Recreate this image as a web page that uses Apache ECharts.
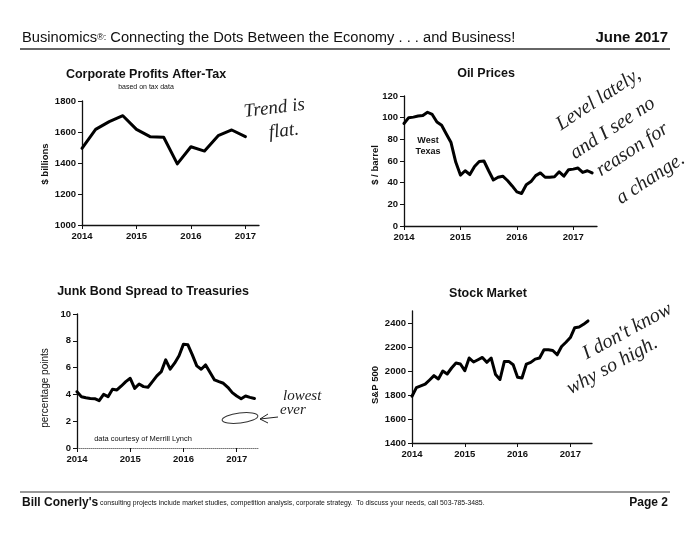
<!DOCTYPE html>
<html><head><meta charset="utf-8">
<script src="https://cdn.jsdelivr.net/npm/echarts@6/dist/echarts.min.js"></script>
<style>html,body{margin:0;padding:0;background:#fff}#c{width:700px;height:541px}</style>
</head><body><div id="c"></div>
<script>
// ---- data ----
const years = [2014, 2015, 2016, 2017];
const profitStart = 2014;          // quarterly, 2014Q1 .. 2017Q1
const profits = [1495,1617,1667,1705,1617,1570,1566,1394,1505,1477,1576,1613,1570];
const monthlyStart = 2014;         // monthly, Jan 2014 .. May 2017
const oilPrices = [94.6,100,100.5,101.5,102,105,103,96,93,85,77,59,
  47,51,47.5,55,59.5,60,51,42.5,45,46,42,37,
  31.5,30,38,41,46.5,49,45,45,45.5,50,46,52,
  52.5,53.5,49.5,51,49];
const junkSpread = [4.2,3.83,3.75,3.7,3.68,3.53,4.0,3.83,4.38,4.33,4.63,4.95,
  5.2,4.45,4.78,4.58,4.53,4.95,5.38,5.7,6.58,5.88,6.33,6.88,
  7.75,7.7,6.95,6.13,5.88,6.2,5.63,5.08,4.95,4.83,4.53,4.13,
  3.88,3.68,3.88,3.78,3.7];
const sp500 = [1790,1862,1876,1890,1925,1961,1934,2000,1975,2025,2066,2058,
  2003,2108,2075,2094,2113,2072,2108,1970,1929,2080,2080,2052,
  1947,1942,2058,2072,2099,2108,2177,2177,2171,2135,2204,2240,
  2279,2361,2367,2389,2417];
const profitTicks = [1000,1200,1400,1600,1800];
const oilTicks = [0,20,40,60,80,100,120];
const junkTicks = [0,2,4,6,8,10];
const spTicks = [1400,1600,1800,2000,2200,2400];

const quarterly = (arr, start) => arr.map((v, i) => [start + i / 4, v]);
const monthly = (arr, start) => arr.map((v, i) => [start + i / 12, v]);

const F = 'Liberation Sans, Arial, sans-serif';
const HAND = 'Liberation Serif, serif';
const chart = echarts.init(document.getElementById('c'), null, {renderer: 'canvas'});
const plain = v => String(v);

function xAx(gi, max, lineStyle) {
  return {
    type: 'value', gridIndex: gi, min: 2014, max: max, interval: 1,
    axisLine: {show: true, lineStyle: lineStyle || {color: '#111', width: 1.3}},
    axisTick: {show: true, length: 4, customValues: years, lineStyle: {color: '#111'}},
    axisLabel: {customValues: years, formatter: plain, margin: 6, color: '#111', fontFamily: F, fontWeight: 'bold', fontSize: 9.5},
    splitLine: {show: false}
  };
}
function yAx(gi, min, max, interval, ticks) {
  return {
    type: 'value', gridIndex: gi, min: min, max: max, interval: interval,
    axisLine: {show: true, lineStyle: {color: '#111', width: 1.3}},
    axisTick: {show: true, length: 4, customValues: ticks, lineStyle: {color: '#111'}},
    axisLabel: {customValues: ticks, formatter: plain, margin: 6, color: '#111', fontFamily: F, fontWeight: 'bold', fontSize: 9.5},
    splitLine: {show: false}
  };
}
const lineSeries = (i, data) => ({
  type: 'line', xAxisIndex: i, yAxisIndex: i, data: data, symbol: 'none', silent: true,
  lineStyle: {color: '#000', width: 3, join: 'round', cap: 'round'}, animation: false
});
function txt(x, y, text, size, weight, opts) {
  opts = opts || {};
  return {
    type: 'text', x: x, y: y, rotation: opts.rot || 0, silent: true,
    style: {text: text, x: 0, y: 0, fill: opts.color || '#111',
      font: (opts.italic ? 'italic ' : '') + (weight || 'normal') + ' ' + size + 'px ' + (opts.family || F),
      textAlign: opts.align || 'center', textVerticalAlign: 'middle'}
  };
}
const hand = (x, y, text, rot, size) => txt(x, y, text, size || 17, 'normal', {family: HAND, italic: true, rot: rot, align: 'left', color: '#222'});

chart.setOption({
  backgroundColor: '#fff',
  animation: false,
  grid: [
    {left: 82, top: 101, width: 177, height: 124},
    {left: 404, top: 96, width: 193, height: 130},
    {left: 77, top: 314, width: 181, height: 134},
    {left: 412, top: 311, width: 180, height: 132}
  ],
  xAxis: [
    xAx(0, 2017.25), xAx(1, 2017.42),
    xAx(2, 2017.4, {color: '#777', width: 1, type: 'dotted'}), xAx(3, 2017.41)
  ],
  yAxis: [
    yAx(0, 1000, 1800, 200, profitTicks),
    yAx(1, 0, 120, 20, oilTicks),
    yAx(2, 0, 10, 2, junkTicks),
    yAx(3, 1400, 2500, 100, spTicks)
  ],
  series: [
    lineSeries(0, quarterly(profits, profitStart)),
    lineSeries(1, monthly(oilPrices, monthlyStart)),
    lineSeries(2, monthly(junkSpread, monthlyStart)),
    lineSeries(3, monthly(sp500, monthlyStart))
  ],
  graphic: {elements: [
    // header
    {type: 'text', x: 22, y: 38, silent: true, style: {
      text: '{a|Businomics}{b|®:}{a| Connecting the Dots Between the Economy . . . and Business!}',
      textVerticalAlign: 'middle', textAlign: 'left',
      rich: {a: {fontFamily: F, fontSize: 14.7, fill: '#111', fontWeight: 'normal'},
             b: {fontFamily: F, fontSize: 9, fill: '#111'}}}},
    txt(668, 38, 'June 2017', 15, 'bold', {align: 'right'}),
    {type: 'line', silent: true, shape: {x1: 20, y1: 49, x2: 670, y2: 49}, style: {stroke: '#333', lineWidth: 1.5}},
    // footer
    {type: 'line', silent: true, shape: {x1: 20, y1: 492, x2: 670, y2: 492}, style: {stroke: '#333', lineWidth: 1.2}},
    {type: 'text', x: 22, y: 503, silent: true, style: {
      text: "{a|Bill Conerly's}{b| consulting projects include market studies, competition analysis, corporate strategy.  To discuss your needs, call 503-785-3485.}",
      textVerticalAlign: 'middle', textAlign: 'left',
      rich: {a: {fontFamily: F, fontSize: 12, fontWeight: 'bold', fill: '#111'},
             b: {fontFamily: F, fontSize: 6.85, fill: '#111'}}}},
    txt(668, 503, 'Page 2', 12, 'bold', {align: 'right'}),
    // chart titles
    txt(146, 75, 'Corporate Profits After-Tax', 12.5, 'bold'),
    txt(146, 87, 'based on tax data', 7, 'normal'),
    txt(486, 74, 'Oil Prices', 12.5, 'bold'),
    txt(153, 292, 'Junk Bond Spread to Treasuries', 12.5, 'bold'),
    txt(488, 294, 'Stock Market', 12.5, 'bold'),
    // axis names
    txt(45, 164, '$ billions', 9.5, 'bold', {rot: Math.PI / 2}),
    txt(375, 165, '$ / barrel', 9.5, 'bold', {rot: Math.PI / 2}),
    txt(45, 388, 'percentage points', 10, 'normal', {rot: Math.PI / 2}),
    txt(375, 385, 'S&P 500', 9.5, 'bold', {rot: Math.PI / 2}),
    // in-chart labels
    txt(428, 141, 'West', 9, 'bold'),
    txt(428, 152, 'Texas', 9, 'bold'),
    txt(143, 439, 'data courtesy of Merrill Lynch', 7.5, 'normal'),
    // handwritten notes
    hand(244, 112, 'Trend is', 0.12, 19),
    hand(269, 133, 'flat.', 0.12, 19),
    hand(558, 126, 'Level lately,', 0.58, 20),
    hand(572, 155, 'and I see no', 0.58, 20),
    hand(598, 172, 'reason for', 0.58, 20),
    hand(618, 200, 'a change.', 0.58, 20),
    hand(584, 355, "I don't know", 0.5, 20),
    hand(568, 390, 'why so high.', 0.5, 20),
    hand(283, 396, 'lowest', 0, 15),
    hand(280, 410, 'ever', 0, 15),
    {type: 'ellipse', silent: true, x: 240, y: 418, rotation: 0.12,
      shape: {cx: 0, cy: 0, rx: 18, ry: 5}, style: {fill: 'none', stroke: '#333', lineWidth: 1}},
    {type: 'polyline', silent: true, shape: {points: [[268, 414], [260, 419], [268, 423]]}, style: {fill: 'none', stroke: '#222', lineWidth: 1}},
    {type: 'line', silent: true, shape: {x1: 260, y1: 419, x2: 278, y2: 417}, style: {stroke: '#222', lineWidth: 1}}
  ]}
});
</script></body></html>
